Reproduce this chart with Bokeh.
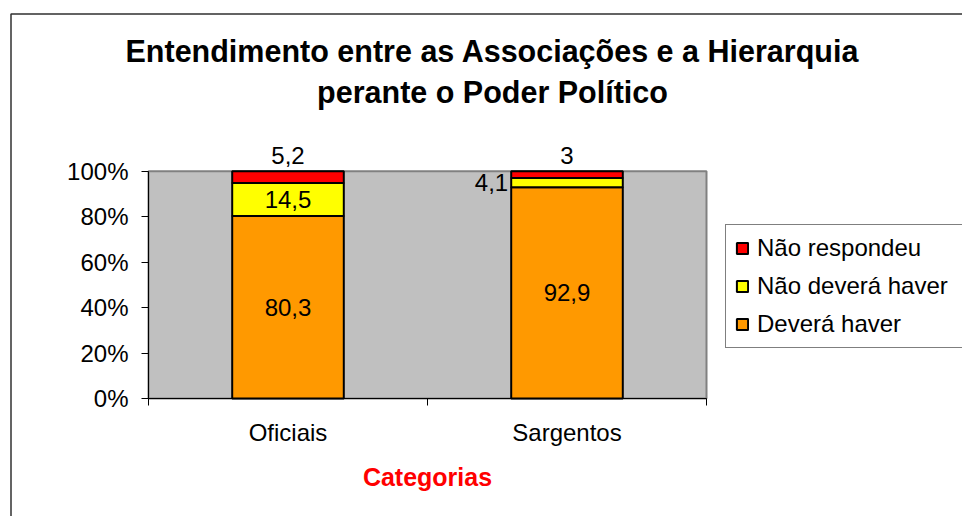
from bokeh.plotting import figure
from bokeh.models import (ColumnDataSource, FixedTicker, PrintfTickFormatter, Legend,
                          LegendItem, Label, LabelSet, BoxAnnotation, Range1d)
from bokeh.embed import file_html
from bokeh.resources import INLINE
from bokeh.core.properties import value

# ---- data ----
categories = ["Oficiais", "Sargentos"]
series = ["Deverá haver", "Não deverá haver", "Não respondeu"]
devera_haver = [80.3, 92.9]
nao_devera_haver = [14.5, 4.1]
nao_respondeu = [5.2, 3.0]
y_ticks = [0, 20, 40, 60, 80, 100]
colors = ["#FF9900", "#FFFF00", "#FF0000"]
title_lines = ["Entendimento entre as Associações e a Hierarquia", "perante o Poder Político"]
x_title = "Categorias"

FONT = "Liberation Sans"
BAR_W = 0.4
W, H = 962, 516
# pixel box of the grey plot area inside the canvas
PL, PR, PT, PB = 148, 706, 170.7, 398
YMAX = 100

ncat = len(categories)
kx = ncat / (PR - PL)
ky = YMAX / (PB - PT)
x_range = Range1d(-PL * kx, (W - PL) * kx)
y_range = Range1d(-(H - PB) * ky, PB * ky)

values = [devera_haver, nao_devera_haver, nao_respondeu]
x = [i + 0.5 for i in range(ncat)]
data = {"x": x}
for name, vals in zip(series, values):
    data[name] = vals
src = ColumnDataSource(data)

p = figure(width=W, height=H, x_range=x_range, y_range=y_range,
           output_backend="svg", toolbar_location=None, min_border=0)
p.title.visible = False
p.background_fill_color = "white"
p.border_fill_color = "white"
p.outline_line_color = None
p.xgrid.visible = False
p.ygrid.visible = False

# grey plot area
p.add_layout(BoxAnnotation(left=0, right=ncat, bottom=0, top=YMAX, fill_color="#C0C0C0",
                           fill_alpha=1.0, line_color="#808080", line_alpha=1.0,
                           line_dash="solid", line_width=2, level="underlay"))

rs = p.vbar_stack(series, x="x", width=BAR_W, source=src, fill_color=colors,
                  line_color="black", line_width=2)

# ---- data labels ----
def fmt(v):
    return ("%g" % v).replace(".", ",")

placement = {("Oficiais", "Não respondeu"): "top",
             ("Sargentos", "Não respondeu"): "top",
             ("Sargentos", "Não deverá haver"): "left"}
groups = {"in": dict(x=[], y=[], t=[]), "top": dict(x=[], y=[], t=[]), "left": dict(x=[], y=[], t=[])}
for ci, cat in enumerate(categories):
    bottom = 0.0
    for si, name in enumerate(series):
        v = values[si][ci]
        mode = placement.get((cat, name), "in")
        g = groups[mode]
        if mode == "in":
            g["x"].append(x[ci]); g["y"].append(bottom + v / 2)
        elif mode == "top":
            g["x"].append(x[ci]); g["y"].append(bottom + v)
        else:
            g["x"].append(x[ci] - BAR_W / 2); g["y"].append(bottom + v / 2)
        g["t"].append(fmt(v))
        bottom += v

common = dict(text_font=value(FONT), text_font_size=value("24px"), text_color=value("black"))
p.add_layout(LabelSet(x="x", y="y", text="t", source=ColumnDataSource(groups["in"]),
                      text_align="center", text_baseline="middle", **common))
p.add_layout(LabelSet(x="x", y="y", text="t", source=ColumnDataSource(groups["top"]),
                      text_align="center", text_baseline="alphabetic", y_offset=7, **common))
p.add_layout(LabelSet(x="x", y="y", text="t", source=ColumnDataSource(groups["left"]),
                      text_align="right", text_baseline="middle", x_offset=-3, **common))

# ---- axes ----
xa = p.xaxis[0]
xa.fixed_location = 0
xa.bounds = (0, ncat)
xa.ticker = FixedTicker(ticks=x, minor_ticks=list(range(ncat + 1)))
xa.major_label_overrides = {xv: c for xv, c in zip(x, categories)}
xa.major_tick_in = 0
xa.major_tick_out = 0
xa.minor_tick_in = 0
xa.minor_tick_out = 7
xa.minor_tick_line_color = "black"
xa.axis_line_color = "black"
xa.major_label_text_font = FONT
xa.major_label_text_font_size = "24px"
xa.major_label_text_color = "black"
xa.major_label_standoff = 13
xa.axis_label = x_title
xa.axis_label_text_font = FONT
xa.axis_label_text_font_size = "25px"
xa.axis_label_text_font_style = "bold"
xa.axis_label_text_color = "#FF0000"
xa.axis_label_standoff = 14

ya = p.yaxis[0]
ya.fixed_location = 0
ya.bounds = (0, YMAX)
ya.ticker = FixedTicker(ticks=y_ticks)
ya.formatter = PrintfTickFormatter(format="%d%%")
ya.major_tick_in = 0
ya.major_tick_out = 7
ya.minor_tick_line_color = None
ya.major_tick_line_color = "black"
ya.axis_line_color = "black"
ya.major_label_text_font = FONT
ya.major_label_text_font_size = "24px"
ya.major_label_text_color = "black"
ya.major_label_standoff = 13

# ---- legend ----
items = [LegendItem(label=series[i], renderers=[rs[i]]) for i in reversed(range(len(series)))]
legend = Legend(items=items, location=(725, 168), orientation="vertical",
                label_text_font=FONT, label_text_font_size="24px", label_text_color="black",
                glyph_width=14, glyph_height=14, label_standoff=8, label_width=215,
                padding=9, spacing=10,
                margin=0, border_line_color="black", border_line_width=1,
                background_fill_color="white", background_fill_alpha=1.0)
p.add_layout(legend, "center")

# ---- title (screen units: from the canvas bottom-left) ----
for line, cy in zip(title_lines, [50.5, 91.7]):
    p.add_layout(Label(x=492, y=H - cy, x_units="screen", y_units="screen", text=line,
                       text_align="center", text_baseline="middle", text_font=FONT,
                       text_font_size="30.5px", text_font_style="bold", text_color="black"))

# ---- outer chart frame ----
p.add_layout(BoxAnnotation(left=10.5, right=2000, top=H - 13.5, bottom=-1000,
                           left_units="screen", right_units="screen",
                           top_units="screen", bottom_units="screen",
                           fill_alpha=0, line_color="#303030", line_alpha=1.0,
                           line_dash="solid", line_width=1.5))

open("out.html", "w").write(file_html(p, INLINE))
